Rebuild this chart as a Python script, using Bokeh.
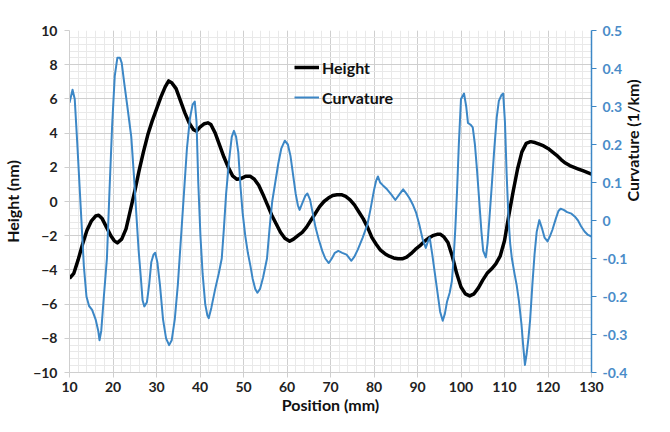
import math
from bokeh.plotting import figure
from bokeh.models import (Range1d, LinearAxis, SingleIntervalTicker, FixedTicker,
                          CustomJSTickFormatter, Legend, LegendItem)
from bokeh.embed import file_html
from bokeh.resources import INLINE

# ---------------- data ----------------
position_h = [10, 11, 12, 13, 14, 15, 16, 16.7, 17.5, 18.5, 19.5, 20.3, 21, 22, 23, 24, 25, 26, 27, 28,
              29, 30, 31, 32, 32.8, 33.5, 34.5, 35.5, 36.5, 37.5, 38.5, 39.2, 40, 41, 41.8, 42.5, 43.5,
              44.5, 45.5, 46.5, 47.5, 48.5, 49.5, 50.5, 51.5, 52.5, 53.5, 54.5, 55.5, 56.5, 57.5, 58.5,
              59.5, 60.6, 61.5, 62.5, 63.5, 64.5, 65.5, 66.5, 67.5, 68.5, 69.5, 70.5, 71.5, 72.5, 73.5,
              74.5, 75.5, 76.5, 77.5, 78.5, 79.5, 80.5, 81.5, 82.5, 83.5, 84.5, 85.5, 86.5, 87.5, 88.5,
              89.5, 90.5, 91.5, 92.5, 93.5, 94.5, 95.3, 96, 97, 98, 99, 100, 101, 102, 103, 104, 105,
              106, 107, 108, 109, 110, 111, 112, 113, 114, 115, 116, 117, 118, 119, 120, 121, 122, 123,
              124, 125, 126, 127, 128, 129, 130]
height_nm = [-4.5, -4.2, -3.4, -2.5, -1.7, -1.15, -0.85, -0.8, -1.0, -1.5, -2.0, -2.3, -2.42, -2.2, -1.6,
             -0.5, 0.6, 1.8, 2.9, 3.9, 4.7, 5.4, 6.1, 6.7, 7.05, 6.95, 6.6, 5.9, 5.2, 4.6, 4.2, 4.12, 4.35,
             4.55, 4.6, 4.5, 4.0, 3.3, 2.6, 2.0, 1.5, 1.3, 1.35, 1.48, 1.48, 1.3, 0.95, 0.4, -0.2, -0.8,
             -1.3, -1.8, -2.15, -2.33, -2.2, -2.0, -1.8, -1.5, -1.1, -0.7, -0.3, 0.0, 0.2, 0.35, 0.4, 0.4,
             0.3, 0.1, -0.2, -0.6, -1.0, -1.5, -2.1, -2.5, -2.85, -3.05, -3.2, -3.3, -3.35, -3.35, -3.25,
             -3.05, -2.8, -2.6, -2.35, -2.15, -2.0, -1.92, -1.92, -2.05, -2.4, -3.2, -4.2, -5.0, -5.4,
             -5.52, -5.4, -5.05, -4.6, -4.2, -3.95, -3.65, -3.2, -2.3, -0.8, 0.6, 1.9, 2.9, 3.4, 3.5,
             3.45, 3.35, 3.25, 3.1, 2.9, 2.7, 2.45, 2.25, 2.1, 2.0, 1.9, 1.8, 1.7, 1.6]

position_c = [10.0, 10.7, 11.2, 11.8, 12.6, 13.3, 13.9, 14.5, 15.2, 16.0, 16.6, 16.9, 17.3, 17.9, 18.6,
              19.2, 19.8, 20.4, 21.0, 21.6, 22.0, 22.6, 23.3, 24.2, 24.8, 25.4, 25.9, 26.4, 26.8, 27.2,
              27.8, 28.3, 28.8, 29.3, 29.7, 30.2, 30.8, 31.5, 32.2, 32.9, 33.5, 34.2, 34.9, 35.6, 36.3,
              37.0, 37.7, 38.3, 38.8, 39.2, 39.6, 40.1, 40.6, 41.2, 41.7, 42.0, 42.6, 43.5, 44.3, 45.0,
              45.5, 46.0, 46.7, 47.3, 47.8, 48.3, 48.8, 49.3, 49.8, 50.4, 51.0, 51.6, 52.1, 52.7, 53.2,
              53.8, 54.5, 55.4, 56.0, 56.6, 57.3, 58.0, 58.7, 59.5, 60.2, 60.8, 61.4, 62.0, 62.5, 62.9,
              63.5, 64.2, 64.7, 65.3, 65.9, 66.6, 67.3, 68.1, 68.8, 69.6, 70.3, 71.0, 71.8, 72.7, 73.7,
              74.8, 75.5, 76.3, 77.4, 78.5, 79.2, 80.0, 80.5, 80.9, 81.4, 82.0, 83.0, 84.0, 84.9, 85.8,
              86.7, 87.5, 88.2, 89.0, 89.7, 90.4, 91.2, 91.9, 92.4, 92.8, 93.4, 94.0, 94.6, 95.2, 95.8,
              96.3, 96.8, 97.4, 97.9, 98.3, 98.7, 99.1, 99.5, 100.0, 100.7, 101.2, 101.6, 102.2, 102.7,
              103.2, 103.7, 104.2, 104.7, 105.1, 105.7, 106.1, 106.5, 107.0, 107.6, 108.2, 108.7, 109.3,
              109.7, 110.1, 110.5, 110.9, 111.3, 111.7, 112.3, 112.8, 113.3, 113.9, 114.3, 114.7, 115.1,
              115.5, 115.9, 116.4, 116.9, 117.4, 118.0, 118.6, 119.2, 119.9, 120.5, 121.0, 121.8, 122.4,
              122.9, 123.6, 124.4, 125.4, 126.2, 126.9, 127.6, 128.4, 129.2, 130.0]
curvature = [0.31, 0.344, 0.32, 0.2, 0.03, -0.12, -0.2, -0.225, -0.235, -0.26, -0.29, -0.315, -0.29, -0.2,
             -0.1, 0.08, 0.25, 0.38, 0.428, 0.428, 0.415, 0.36, 0.3, 0.22, 0.12, 0.01, -0.08, -0.15, -0.21,
             -0.226, -0.215, -0.17, -0.11, -0.09, -0.085, -0.11, -0.17, -0.26, -0.31, -0.328, -0.315,
             -0.26, -0.17, -0.05, 0.07, 0.19, 0.27, 0.305, 0.313, 0.26, 0.1, -0.04, -0.14, -0.22, -0.25,
             -0.257, -0.23, -0.18, -0.14, -0.1, -0.02, 0.07, 0.16, 0.22, 0.236, 0.22, 0.18, 0.09, 0.02,
             -0.04, -0.085, -0.12, -0.153, -0.18, -0.19, -0.18, -0.15, -0.1, -0.02, 0.05, 0.1, 0.15, 0.19,
             0.21, 0.2, 0.17, 0.12, 0.07, 0.04, 0.028, 0.045, 0.065, 0.071, 0.055, 0.02, -0.02, -0.05,
             -0.08, -0.1, -0.112, -0.1, -0.085, -0.08, -0.085, -0.09, -0.106, -0.095, -0.076, -0.045,
             -0.01, 0.03, 0.08, 0.105, 0.116, 0.1, 0.093, 0.082, 0.068, 0.054, 0.068, 0.082, 0.07, 0.058,
             0.04, 0.02, -0.01, -0.05, -0.072, -0.055, -0.045, -0.09, -0.14, -0.19, -0.24, -0.264, -0.245,
             -0.213, -0.19, -0.16, -0.1, -0.02, 0.08, 0.2, 0.32, 0.334, 0.3, 0.257, 0.252, 0.245, 0.2,
             0.13, 0.05, -0.03, -0.08, -0.097, -0.06, 0.0, 0.08, 0.18, 0.27, 0.315, 0.33, 0.334, 0.26,
             0.12, 0.01, -0.06, -0.1, -0.14, -0.17, -0.21, -0.273, -0.33, -0.38, -0.35, -0.31, -0.26,
             -0.17, -0.09, -0.03, 0.001, -0.02, -0.045, -0.055, -0.04, -0.025, 0.005, 0.025, 0.031, 0.028,
             0.022, 0.018, 0.01, 0.0, -0.015, -0.029, -0.038, -0.042]

x_ticks = [10, 20, 30, 40, 50, 60, 70, 80, 90, 100, 110, 120, 130]
height_ticks = [-10, -8, -6, -4, -2, 0, 2, 4, 6, 8, 10]
curv_ticks = [-0.4, -0.3, -0.2, -0.1, 0.0, 0.1, 0.2, 0.3, 0.4, 0.5]

# ---------------- styling ----------------
FONT = "Lato"
BLUE = "#3c87c6"
BLUE_TXT = "#4a8cc8"
GRID_MAJOR = "#cfcfcf"
GRID_MINOR = "#e9e9e9"

p = figure(width=654, height=416,
           x_range=Range1d(x_ticks[0], x_ticks[-1]),
           y_range=Range1d(height_ticks[0], height_ticks[-1]),
           output_backend="svg", toolbar_location=None,
           min_border_left=68, min_border_right=56, min_border_top=30, min_border_bottom=44)
p.outline_line_color = None
p.background_fill_color = "white"
p.border_fill_color = "white"

p.extra_y_ranges = {"curv": Range1d(curv_ticks[0], curv_ticks[-1])}

p.xaxis.ticker = SingleIntervalTicker(interval=10, num_minor_ticks=5)
p.xaxis.axis_label = "Position (mm)"
p.yaxis.ticker = SingleIntervalTicker(interval=2, num_minor_ticks=5)
p.yaxis.axis_label = "Height (nm)"

for ax in (p.xaxis[0], p.yaxis[0]):
    ax.axis_line_color = GRID_MAJOR
    ax.major_tick_line_color = GRID_MAJOR
    ax.major_tick_in = 0
    ax.major_tick_out = 5
    ax.minor_tick_line_color = None
    ax.major_label_text_font = FONT
    ax.major_label_text_font_style = "bold"
    ax.major_label_text_font_size = "14px"
    ax.major_label_text_color = "#222222"
    ax.axis_label_text_font = FONT
    ax.axis_label_text_font_style = "bold"
    ax.axis_label_text_font_size = "16px"
    ax.axis_label_text_color = "#111111"

p.xaxis.major_label_standoff = 4
p.xaxis.axis_label_standoff = 0
p.yaxis.major_label_standoff = 7
p.yaxis.axis_label_standoff = 8

rax = LinearAxis(y_range_name="curv", ticker=FixedTicker(ticks=curv_ticks),
                 axis_label="Curvature (1/km)")
rax.formatter = CustomJSTickFormatter(code="""
    const v = Math.round(tick * 10) / 10;
    return v === 0 ? '0' : v.toFixed(1);
""")
rax.axis_line_color = BLUE
rax.axis_line_width = 1.5
rax.major_tick_line_color = BLUE
rax.major_tick_in = 0
rax.major_tick_out = 5
rax.minor_tick_line_color = None
rax.major_label_text_font = FONT
rax.major_label_text_font_style = "bold"
rax.major_label_text_font_size = "14px"
rax.major_label_text_color = BLUE_TXT
rax.major_label_standoff = 6
rax.axis_label_text_font = FONT
rax.axis_label_text_font_style = "bold"
rax.axis_label_text_font_size = "16px"
rax.axis_label_text_color = "#111111"
rax.axis_label_standoff = 2
try:
    rax.axis_label_orientation = math.pi / 2
except Exception:
    pass
p.add_layout(rax, "right")

p.xgrid.grid_line_color = GRID_MAJOR
p.ygrid.grid_line_color = GRID_MAJOR
p.xgrid.minor_grid_line_color = GRID_MINOR
p.ygrid.minor_grid_line_color = GRID_MINOR

h_r = p.line(position_h, height_nm, line_color="black", line_width=3.5, line_join="round")
c_r = p.line(position_c, curvature, line_color=BLUE, line_width=2, line_join="round",
             y_range_name="curv")

legend = Legend(items=[LegendItem(label="Height", renderers=[h_r]),
                       LegendItem(label="Curvature", renderers=[c_r])],
                location=(225, 265))
legend.label_text_font = FONT
legend.label_text_font_style = "bold"
legend.label_text_font_size = "16px"
legend.label_text_color = "#111111"
legend.glyph_width = 25
legend.glyph_height = 20
legend.label_height = 20
legend.label_standoff = 3
legend.spacing = 10
legend.padding = 0
legend.margin = 0
legend.border_line_color = None
legend.background_fill_alpha = 0
p.add_layout(legend)

open("out.html", "w").write(file_html(p, INLINE))
